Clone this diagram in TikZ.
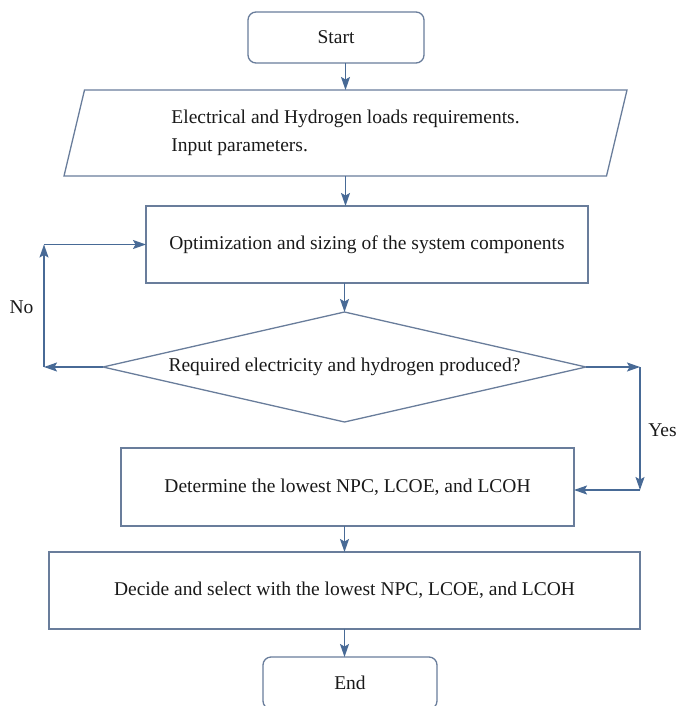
\documentclass[tikz,border=0pt]{standalone}
\usepackage{fontspec}
\setmainfont{Liberation Serif}
\usetikzlibrary{shapes.geometric,arrows.meta}
\definecolor{boxline}{RGB}{105,125,155}
\definecolor{arrline}{RGB}{72,106,150}
\definecolor{txt}{RGB}{25,25,25}
\tikzset{
  every node/.style={font=\fontsize{19.5}{28}\selectfont, text=txt},
  procbox/.style={draw=boxline, line width=1.3pt, rectangle, inner sep=0pt, outer sep=0pt},
  termbox/.style={procbox, rounded corners=8pt},
  decbox/.style={draw=boxline, line width=1.3pt, diamond, aspect=4.4, inner sep=0pt, outer sep=0pt},
  arr/.style={draw=arrline, line width=1.4pt, -{Stealth[length=13pt,width=9pt,inset=2.5pt]}},
  lbl/.style={inner sep=0pt}
}
\begin{document}
\begin{tikzpicture}[x=1pt,y=-1pt]
\useasboundingbox (0,0) rectangle (678,706);
\clip (0,0) rectangle (678,706);
\node[termbox, minimum width=176pt, minimum height=51pt] (start) at (336,37.5) {Start};
\node[rectangle, inner sep=0pt, outer sep=0pt, minimum width=522pt, minimum height=86pt, align=left] (para) at (345.5,133) {Electrical and Hydrogen loads requirements.\\Input parameters.};
\draw[draw=boxline, line width=1.3pt, line join=miter] ([xshift=-20.5pt]para.south west) -- (para.north west) -- ([xshift=20.5pt]para.north east) -- (para.south east) -- cycle;
\node[procbox, minimum width=442pt, minimum height=77pt] (opt) at (367,244.5) {Optimization and sizing of the system components};
\node[decbox, minimum width=483pt, minimum height=110pt] (dia) at (344.5,367) {Required electricity and hydrogen produced?};
\node[procbox, minimum width=453pt, minimum height=78pt] (det) at (347.5,487) {Determine the lowest NPC, LCOE, and LCOH};
\node[procbox, minimum width=591pt, minimum height=77pt] (dec) at (344.5,590.5) {Decide and select with the lowest NPC, LCOE, and LCOH};
\node[termbox, minimum width=174pt, minimum height=52pt] (end) at (350,683) {End};
\coordinate (noL) at (44,367);
\coordinate (noT) at (44,244.5);
\coordinate (yesR) at (640,367);
\coordinate (yesB) at (640,490);
\node[lbl] (nolbl) at (21.5,307) {No};
\node[lbl] (yeslbl) at (662.5,430) {Yes};
\draw[arr] (start.south -| para.north) -- (para.north);
\draw[arr] (para.south) -- (para.south |- opt.north);
\draw[arr] (opt.south -| dia.north) -- (dia.north);
\draw[arr] (det.south -| dec.north) -- (dec.north);
\draw[arr] (dec.south) -- (dec.south |- end.north);
\draw[arr] (dia.west) -- (noL);
\draw[arr] (noL) -- (noT);
\draw[arr] (noT) -- (opt.west);
\draw[arr] (dia.east) -- (yesR);
\draw[arr] (yesR) -- (yesB);
\draw[arr] (yesB) -- (det.east |- yesB);
\end{tikzpicture}
\end{document}
